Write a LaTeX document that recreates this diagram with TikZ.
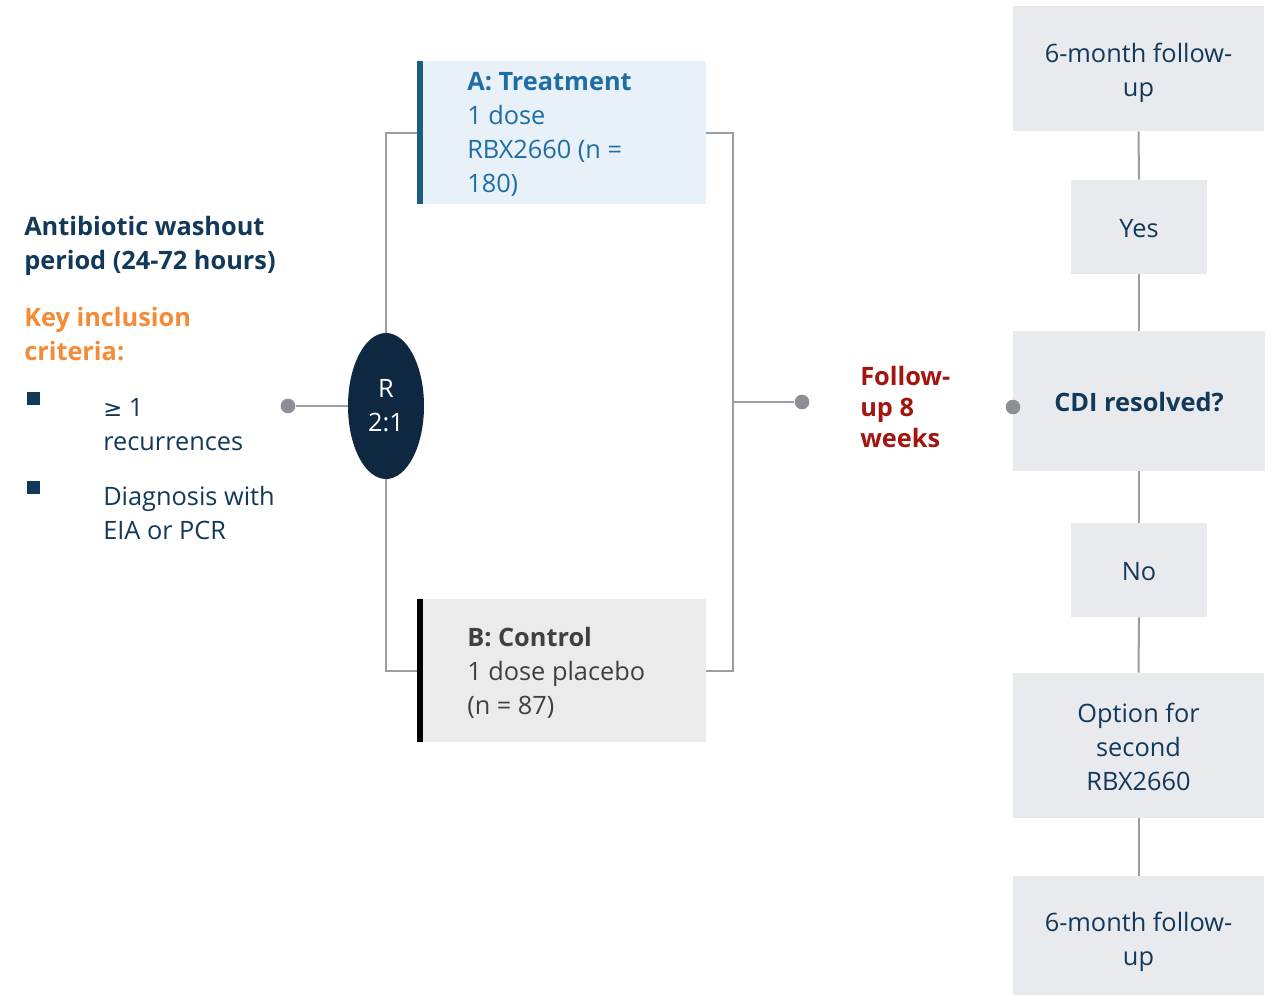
\documentclass[tikz,border=0pt]{standalone}
\usepackage{fontspec}
\setmainfont{Open Sans}
\newfontfamily\symfont{DejaVu Sans}
\usetikzlibrary{shapes.geometric}
\definecolor{navy}{HTML}{12395A}
\definecolor{ellfill}{HTML}{0E2841}
\definecolor{orng}{HTML}{F58B36}
\definecolor{tblue}{HTML}{1F6EA3}
\definecolor{tbar}{HTML}{1A5E85}
\definecolor{tfill}{HTML}{E8F0F8}
\definecolor{cgray}{HTML}{404040}
\definecolor{cfill}{HTML}{EBEBEB}
\definecolor{rfill}{HTML}{E8EAEE}
\definecolor{dred}{HTML}{A3150F}
\definecolor{lgray}{HTML}{9B9CA4}
\definecolor{dotgray}{HTML}{8E8F96}
\newcommand{\fs}{\fontsize{19}{25.5}\selectfont}
\tikzset{
  txt/.style={font=\fs, inner sep=0pt, align=left, anchor=west},
  conn/.style={draw=lgray, line width=1.5pt},
  dotnode/.style={circle, fill=dotgray, inner sep=0pt, minimum size=11pt},
  rbox/.style={fill=rfill, inner sep=0pt},
  rlab/.style={inner sep=0pt, align=center, text=navy, font=\fs},
  armbox/.style={inner sep=0pt, minimum width=216.75pt, minimum height=107.25pt},
}
\begin{document}
\begin{tikzpicture}[x=0.75pt, y=-0.75pt]
\useasboundingbox[fill=white] (0,0) rectangle (1271,996);

% left text
\node[txt, text=navy, font=\fs\bfseries] (wash) at (24,246) {Antibiotic washout\\period (24-72 hours)};
\node[txt, text=orng, font=\fs\bfseries] (key) at (24,334.5) {Key inclusion\\criteria:};
\node[fill=navy, inner sep=0pt, minimum size=9.75pt] (b1) at (33.5,398.5) {};
\node[fill=navy, inner sep=0pt, minimum size=9.75pt] (b2) at (33.5,487.5) {};
\node[txt, text=navy] (c1) at (103,424.5) {{\symfont\fontsize{17}{25.5}\selectfont ≥} 1\\recurrences};
\node[txt, text=navy] (c2) at (103,513) {Diagnosis with\\EIA or PCR};

% randomisation
\node[dotnode] (d1) at (288,406) {};
\node[ellipse, fill=ellfill, minimum width=57pt, minimum height=109.5pt, inner sep=0pt,
      text=white, align=center, font=\fs] (R) at (386,406) {R\\2:1};

% arms
\node[armbox, fill=tfill] (A) at (561.5,132.5) {};
\fill[tbar] (A.north west) rectangle ([xshift=4.5pt]A.south west);
\node[txt, text=tblue] (At) at (467,134.5) {\textbf{A: Treatment}\\1 dose\\RBX2660 (n =\\180)};
\node[armbox, fill=cfill] (B) at (561.5,670.5) {};
\fill[black] (B.north west) rectangle ([xshift=4.5pt]B.south west);
\node[txt, text=cgray] (Bt) at (467,673) {\textbf{B: Control}\\1 dose placebo\\(n = 87)};

\draw[conn] (d1) -- (R.west);
\draw[conn] (R.north) |- (A.west);
\draw[conn] (R.south) |- (B.west);
\draw[conn] (A.east) -- ++(27,0) |- (B.east);
\coordinate (mid) at (733,402);
\node[dotnode] (d2) at (802,402) {};
\draw[conn] (mid) -- (d2);

\node[txt, text=dred, font=\fontsize{19}{23.25}\selectfont\bfseries] (fu) at (860,407) {Follow-\\up 8\\weeks};

% right column
\node[rbox, minimum width=188.25pt, minimum height=93.75pt,
      label={[rlab, yshift=-3pt]center:{6-month follow-\\up}}] (top) at (1138.5,68.5) {};
\node[rbox, minimum width=102pt, minimum height=70.5pt,
      label={[rlab, yshift=-1.2pt]center:Yes}] (yes) at (1139,227) {};
\node[rbox, minimum width=189pt, minimum height=105pt,
      label={[rlab, font=\fs\bfseries, yshift=-0.8pt]center:{CDI resolved?}}] (cdi) at (1139,401) {};
\node[rbox, minimum width=102pt, minimum height=70.5pt,
      label={[rlab, yshift=-1.2pt]center:No}] (no) at (1139,570) {};
\node[rbox, minimum width=188.25pt, minimum height=108.75pt,
      label={[rlab, yshift=-1pt]center:{Option for\\second\\RBX2660}}] (opt) at (1138.5,745.5) {};
\node[rbox, minimum width=188.25pt, minimum height=89.25pt,
      label={[rlab, yshift=-4.5pt]center:{6-month follow-\\up}}] (bot) at (1138.5,935.5) {};
\node[dotnode] (d3) at (1013,407) {};

\draw[conn] (top.south) -- (yes.north);
\draw[conn] (yes.south) -- (cdi.north);
\draw[conn] (cdi.south) -- (no.north);
\draw[conn] (no.south) -- (opt.north);
\draw[conn] (opt.south) -- (bot.north);
\end{tikzpicture}
\end{document}
